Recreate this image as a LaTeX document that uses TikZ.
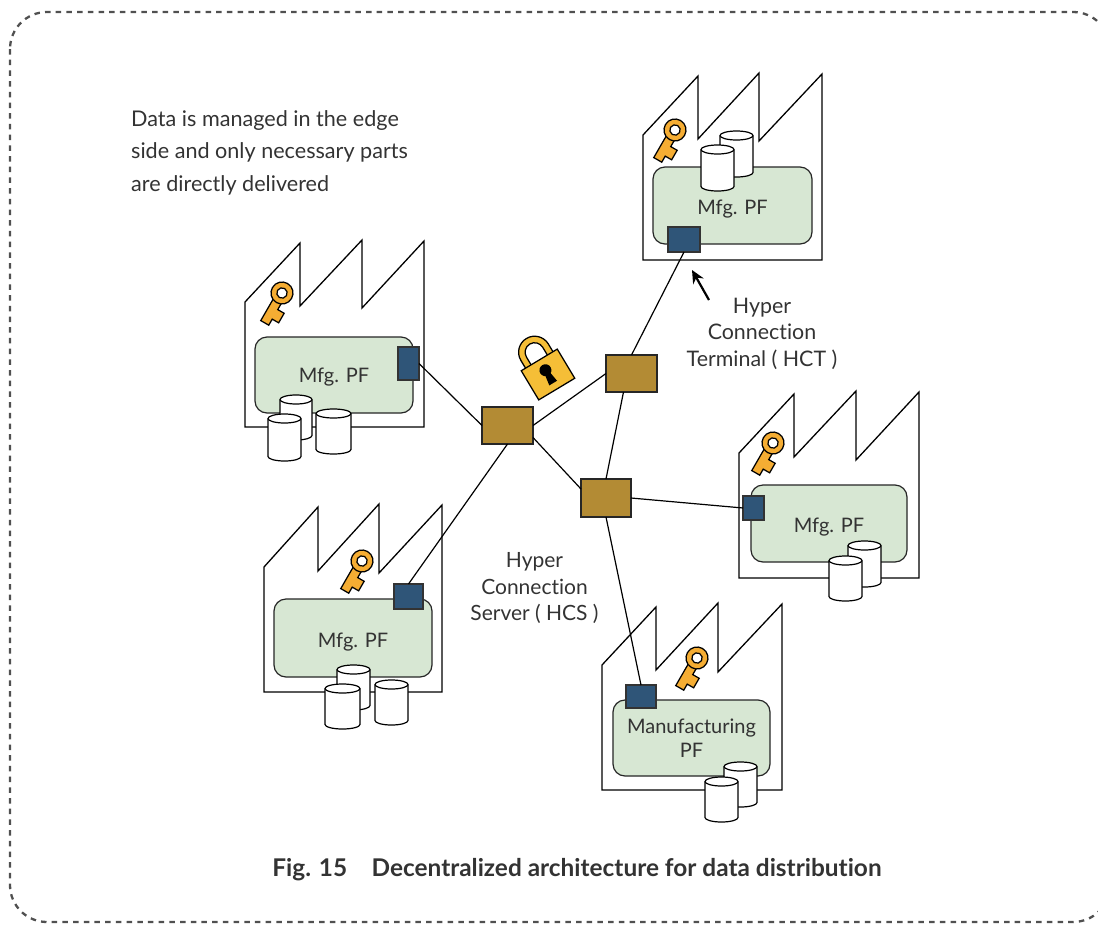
\documentclass[tikz,border=0pt]{standalone}
\usepackage{fontspec}
\setmainfont{Lato}[Ligatures=NoCommon]
\usetikzlibrary{arrows.meta}
\definecolor{pfgreen}{HTML}{D7E7D3}
\definecolor{hctblue}{HTML}{2F5578}
\definecolor{hcsbrown}{HTML}{B38B34}
\definecolor{keyorange}{HTML}{F5AD33}
\definecolor{lockyellow}{HTML}{F5BE37}
\definecolor{txt}{HTML}{333333}
\definecolor{dashgray}{HTML}{505050}
\tikzset{
  x=1pt,y=1pt,
  factory/.style={draw=black,line width=1.3pt,fill=white,line join=miter},
  pf/.style={draw=black!85,line width=1.2pt,fill=pfgreen,rounded corners=12pt,inner sep=0pt,outer sep=0pt,text=txt,font=\fontsize{20}{24}\selectfont,align=center,execute at begin node={\rule{0pt}{#1}}},
  hct/.style={draw=black!80,line width=1.1pt,fill=hctblue,inner sep=0pt,outer sep=0pt},
  hcs/.style={draw=black!85,line width=1.3pt,fill=hcsbrown,minimum width=51pt,minimum height=37pt,inner sep=0pt,outer sep=0pt},
  link/.style={draw=black,line width=1.2pt},
  label/.style={text=txt,inner sep=0pt,align=center,font=\fontsize{21}{26.5}\selectfont},
  iconline/.style={draw=black,line width=1.25pt},
  pics/drum/.style 2 args={code={
    \draw[black,line width=1.2pt,fill=white] (0,-4.5) -- (0,-#2+4.5)
      arc[start angle=180,end angle=360,x radius=#1/2,y radius=4.5]
      -- (#1,-4.5) arc[start angle=0,end angle=180,x radius=#1/2,y radius=4.5] -- cycle;
    \draw[black,line width=1.2pt] (0,-4.5) arc[start angle=180,end angle=360,x radius=#1/2,y radius=4.5];
  }},
  pics/keyicon/.style={code={
    \begin{scope}[rotate=-30]
    \draw[iconline,fill=keyorange,line join=miter]
      (-4.6,-7) -- (-4.6,-34.5) -- (4.6,-34.5) -- (4.6,-27.5) -- (12,-27.5) -- (12,-16.5) -- (4.6,-16.5) -- (4.6,-7) -- cycle;
    \draw[iconline,fill=keyorange] (0,0) circle[radius=11];
    \draw[iconline,fill=white] (0,0) circle[radius=5.2];
    \end{scope}
  }},
}
\begin{document}
\begin{tikzpicture}
\useasboundingbox (0,0) rectangle (1098,-924);
% outer frame
\draw[dashgray,line width=2.3pt,dash pattern=on 5.5pt off 5.2pt,rounded corners=37pt] (10,-12) rectangle (1110,-922);

% factory 1 (upper left)
\draw[factory] (245,-302) -- (300,-243) -- (300,-306) -- (362,-240) -- (362,-308) -- (424,-241) -- (424,-427) -- (245,-427) -- cycle;
\node[pf=18pt,minimum width=158pt,minimum height=76pt] (pf1) at (334,-375) {Mfg. PF};
\node[hct,minimum width=21pt,minimum height=33pt] (t1) at (408.5,-363.5) {};
\pic at (280,-395) {drum={32}{45}};
\pic at (268,-414) {drum={33}{47}};
\pic at (316,-409) {drum={35}{45}};
\pic at (282,-293) {keyicon};

% factory 2 (upper right)
\draw[factory] (643,-135) -- (698,-76) -- (698,-139) -- (759,-73) -- (759,-141) -- (822,-74) -- (822,-260) -- (643,-260) -- cycle;
\node[pf=22pt,minimum width=159pt,minimum height=77pt] (pf2) at (732.5,-205.5) {Mfg. PF};
\node[hct,minimum width=32pt,minimum height=25pt] (t2) at (684,-239.5) {};
\pic at (720,-131) {drum={33}{46}};
\pic at (701,-145) {drum={33}{46}};
\pic at (675,-130) {keyicon};

% factory 3 (lower left)
\draw[factory] (264,-567) -- (318,-507) -- (318,-571) -- (379,-504) -- (379,-573) -- (442,-505) -- (442,-692) -- (264,-692) -- cycle;
\node[pf=22pt,minimum width=158pt,minimum height=78pt] (pf3) at (353,-638) {Mfg. PF};
\node[hct,minimum width=29pt,minimum height=25pt] (t3) at (408.5,-596.5) {};
\pic at (337,-665) {drum={33}{45}};
\pic at (325,-684) {drum={35}{45}};
\pic at (375,-680) {drum={33}{45}};
\pic at (362,-561) {keyicon};

% factory 4 (right)
\draw[factory] (739,-453) -- (794,-394) -- (794,-457) -- (856,-391) -- (856,-460) -- (919,-392) -- (919,-578) -- (739,-578) -- cycle;
\node[pf=22pt,minimum width=156pt,minimum height=77pt] (pf4) at (829,-523.5) {Mfg. PF};
\node[hct,minimum width=21pt,minimum height=24pt] (t4) at (753.5,-508) {};
\pic at (848,-541) {drum={33}{46}};
\pic at (829,-556) {drum={33}{45}};
\pic at (773,-443) {keyicon};

% factory 5 (bottom)
\draw[factory] (602,-665) -- (656,-607) -- (656,-670) -- (718,-603) -- (718,-672) -- (782,-604) -- (782,-790) -- (602,-790) -- cycle;
\node[pf=22pt,minimum width=157pt,minimum height=76pt] (pf5) at (691.5,-738) {Manufacturing\\PF};
\node[hct,minimum width=30pt,minimum height=23pt] (t5) at (641,-696.5) {};
\pic at (724,-762) {drum={33}{45}};
\pic at (705,-777) {drum={33}{45}};
\pic at (697,-658) {keyicon};

% connection servers
\node[hcs] (s1) at (507.5,-425.5) {};
\node[hcs] (s2) at (631.5,-373.5) {};
\node[hcs,minimum width=50pt,minimum height=38pt] (s3) at (606,-498) {};

% connectors
\draw[link] (t1.east) -- (s1.west);
\draw[link] (s1.east) -- (s2.west);
\draw[link] (s2.north) -- (t2.south);
\draw[link] (s1.south) -- (t3.north);
\draw[link] ([yshift=-12pt]s1.east) -- ([yshift=9pt]s3.west);
\draw[link] ([xshift=-8pt]s2.south) -- (s3.north);
\draw[link] (s3.east) -- (t4.west);
\draw[link] (s3.south) -- (t5.north);

% padlock
\begin{scope}[shift={(548,-374.5)},rotate=31]
  \draw[iconline,fill=lockyellow]
    (-16,15) -- (-16,26) arc[start angle=180,end angle=0,radius=16] -- (16,15) -- (9.5,15) -- (9.5,26) arc[start angle=0,end angle=180,radius=9.5] -- (-9.5,15) -- cycle;
  \draw[iconline,fill=lockyellow,line join=miter] (-21,-17) rectangle (21,17);
  \fill[black] (0,5) circle[radius=6];
  \fill[black] (-2.5,3) -- (2.5,3) -- (4.5,-10) -- (-4.5,-10) -- cycle;
\end{scope}

% arrow to HCT
\coordinate (ahead) at (692,-270);
\coordinate (atail) at (709,-300);
\draw[black,line width=2.2pt,-{Stealth[length=13pt,width=12pt]}] (atail) -- (ahead);

% texts
\node[label,anchor=north west,align=left,font=\fontsize{21.6}{32.5}\selectfont] (note) at (131,-110)
  {Data is managed in the edge\\side and only necessary parts\\are directly delivered};
\node[label,font=\fontsize{21.4}{26.5}\selectfont] (hctlabel) at (762,-333.5) {Hyper\\Connection\\Terminal ( HCT )};
\node[label] (hcslabel) at (534.5,-588.5) {Hyper\\Connection\\Server ( HCS )};
\node[label,font=\fontsize{24.4}{28}\selectfont\bfseries] (caption) at (577,-870) {Fig. 15\hspace{1em}Decentralized architecture for data distribution};
\end{tikzpicture}
\end{document}
